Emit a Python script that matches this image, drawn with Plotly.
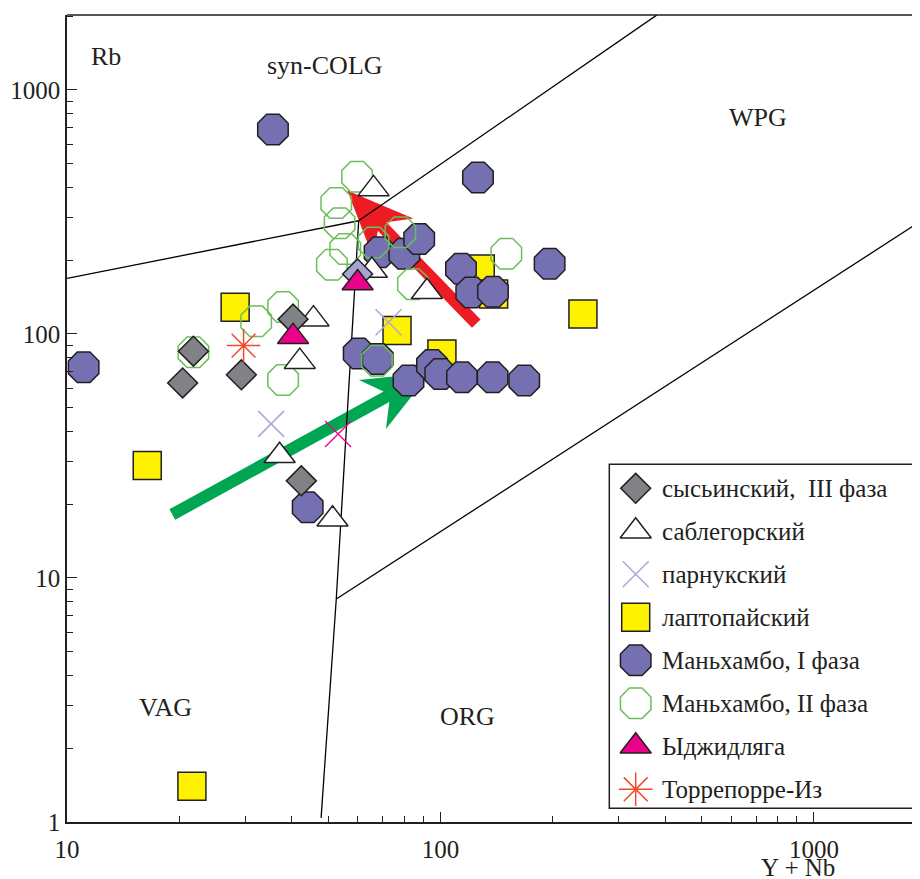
import numpy as np
import plotly.graph_objects as go

# ---------------- data (Y+Nb, Rb) ----------------
sys_x = [40.3, 21.8, 20.4, 29.3, 42.4]
sys_y = [115, 85, 63, 68, 25]

sab_x = [66.2, 65.5, 92.0, 45.7, 42.0, 37.1, 51.4]
sab_y = [393, 182, 149, 115, 77, 31.7, 17.4]

par_x = [35.2, 72.6]
par_y = [42.8, 111.6]

lap_x = [28.2, 16.4, 21.6, 76.5, 127.8, 138.8, 100.9, 240.7]
lap_y = [128.5, 28.9, 1.40, 103.2, 184.7, 145.8, 82.8, 120.8]

man1_x = [35.6, 11.08, 126, 68.7, 80.0, 87.7, 113.5, 120.9, 138.2, 196,
          60.4, 67.9, 82.1, 94.9, 99.9, 114.2, 137.9, 167.6, 44.1]
man1_y = [688, 73.0, 438, 216, 213, 245, 185, 148, 149, 194,
          83.2, 79.0, 64.4, 74.6, 68.5, 66.4, 66.4, 64.4, 19.5]

man2_x = [59.8, 52.6, 53.7, 55.6, 51.2, 66.2, 78.1, 84.4, 150.1, 37.9, 32.1, 21.8, 37.9, 67.6]
man2_y = [441, 344, 284, 223, 192, 237, 261, 160, 213, 129, 112.6, 84.1, 64.8, 77.7]

ydz_x = [60.0, 40.3]
ydz_y = [161.8, 97.5]

tor_x = [29.7]
tor_y = [89.6]

extra_dia_x = [60.0]
extra_dia_y = [176]
extra_x_x = [53.2]
extra_x_y = [38.9]

# discrimination boundaries (Pearce et al.)
line_a_x = [10, 60.4]
line_a_y = [169, 291]
line_b_x = [60.4, 380]
line_b_y = [291, 2030]
line_c_x = [60.4, 52.6, 47.9]
line_c_y = [291, 8.2, 1.04]
line_d_x = [52.6, 2000]
line_d_y = [8.2, 300]

# trend arrows: (tail, tip)
red_arrow = [(124.7, 110.2), (56.3, 386.7)]
green_arrow = [(19.14, 18.2), (93.9, 69.4)]

region_labels = ["Rb", "syn-COLG", "WPG", "VAG", "ORG"]
region_x = [12.7, 49.1, 708, 18.3, 118]
region_y = [1369, 1258, 769, 2.94, 2.71]

legend_names = ["сысьинский,  III фаза", "саблегорский", "парнукский", "лаптопайский",
                "Маньхамбо, I фаза", "Маньхамбо, II фаза", "Ыджидляга", "Торрепорре-Из"]

# ---------------- layout constants ----------------
OFF = 8                      # default page margin of the html body
W, H = 920 - OFF, 879 - OFF
ML, MR, MT, MB = 67 - OFF, 0, 15 - OFF, 57
XR = [1, np.log10(1923)]
YR = [0, 3.307]
PW = W - ML - MR
PH = H - MT - MB
PXX = PW / (XR[1] - XR[0])
PXY = PH / (YR[1] - YR[0])

INK = "#231f20"
FONT = "Liberation Serif"


def fx(px):   # page pixel x -> paper fraction
    return (px - OFF - ML) / PW


def fy(py):   # page pixel y -> paper fraction
    return 1 - (py - OFF - MT) / PH


fig = go.Figure()


def arrow_poly(tail, tip, sw=12, hl=66, hw=28, notch=16):
    t = np.array([np.log10(tail[0]) * PXX, np.log10(tail[1]) * PXY])
    p = np.array([np.log10(tip[0]) * PXX, np.log10(tip[1]) * PXY])
    u = (p - t) / np.linalg.norm(p - t)
    n = np.array([-u[1], u[0]])
    bs = p - u * (hl - notch)
    pts = [t + n * sw / 2, bs + n * sw / 2, p - u * hl + n * hw, p,
           p - u * hl - n * hw, bs - n * sw / 2, t - n * sw / 2, t + n * sw / 2]
    xs = [10 ** (q[0] / PXX) for q in pts]
    ys = [10 ** (q[1] / PXY) for q in pts]
    return xs, ys


for arr, col in [(red_arrow, "#ed1c24"), (green_arrow, "#00a651")]:
    ax_, ay_ = arrow_poly(arr[0], arr[1])
    fig.add_trace(go.Scatter(x=ax_, y=ay_, mode="lines", fill="toself", fillcolor=col,
                             line=dict(color=col, width=0), hoverinfo="skip", showlegend=False))

for lx, ly in [(line_a_x, line_a_y), (line_b_x, line_b_y), (line_c_x, line_c_y), (line_d_x, line_d_y)]:
    fig.add_trace(go.Scatter(x=lx, y=ly, mode="lines", line=dict(color="black", width=1.3),
                             hoverinfo="skip", showlegend=False))

dark = dict(color=INK, width=1.5)
styles = {
    "sys": dict(symbol="diamond", size=23, color="#808285", line=dark),
    "sab": dict(symbol="triangle-up", size=27, color="white", line=dark),
    "par": dict(symbol="x-thin-open", size=26, color="#a9a9d9", line=dict(color="#a9a9d9", width=1.5)),
    "lap": dict(symbol="square", size=28, color="#fff200", line=dark),
    "man1": dict(symbol="octagon", size=33, color="#7470b2", line=dark),
    "man2": dict(symbol="octagon-open", size=33, color="#6abf5a", line=dict(color="#6abf5a", width=1.5)),
    "ydz": dict(symbol="triangle-up", size=27, color="#ec008c", line=dark),
    "tor": dict(symbol="asterisk-open", size=28, color="#ef4a2a", line=dict(color="#ef4a2a", width=1.5)),
}

# drawing order (bottom -> top)
series = [
    ("lap", lap_x, lap_y),
    ("man1", man1_x, man1_y),
    ("man2", man2_x, man2_y),
    ("sab", sab_x, sab_y),
    ("sys", sys_x, sys_y),
]
for key, xs, ys in series:
    fig.add_trace(go.Scatter(x=xs, y=ys, mode="markers", marker=styles[key], showlegend=False))

fig.add_trace(go.Scatter(x=extra_dia_x, y=extra_dia_y, mode="markers",
                         marker=dict(symbol="diamond", size=23, color="#a5a5d2", line=dark),
                         showlegend=False))
for key, xs, ys in [("ydz", ydz_x, ydz_y), ("par", par_x, par_y)]:
    fig.add_trace(go.Scatter(x=xs, y=ys, mode="markers", marker=styles[key], showlegend=False))
fig.add_trace(go.Scatter(x=extra_x_x, y=extra_x_y, mode="markers",
                         marker=dict(symbol="x-thin-open", size=26, color="#ec008c",
                                     line=dict(color="#ec008c", width=1.3)),
                         showlegend=False))
fig.add_trace(go.Scatter(x=tor_x, y=tor_y, mode="markers", marker=styles["tor"], showlegend=False))

# ---------------- manual legend on overlay axes ----------------
leg_keys = ["sys", "sab", "par", "lap", "man1", "man2", "ydz", "tor"]
leg_y = [fy(488.3 + i * 43.0) for i in range(len(leg_keys))]
sym_x = fx(635.7)
txt_x = fx(659.5)
for key, yy in zip(leg_keys, leg_y):
    fig.add_trace(go.Scatter(x=[sym_x], y=[yy], mode="markers", marker=styles[key],
                             xaxis="x2", yaxis="y2", showlegend=False, hoverinfo="skip"))

annotations = []
for name, yy in zip(legend_names, leg_y):
    annotations.append(dict(x=txt_x, y=yy, xref="paper", yref="paper", text=name,
                            showarrow=False, xanchor="left", yanchor="middle",
                            font=dict(family=FONT, size=25, color=INK)))

for t, rx, ry in zip(region_labels, region_x, region_y):
    annotations.append(dict(x=np.log10(rx), y=np.log10(ry), xref="x", yref="y", text=t,
                            showarrow=False, xanchor="center", yanchor="middle",
                            font=dict(family=FONT, size=26, color=INK)))

annotations.append(dict(x=fx(797.5), y=fy(867), xref="paper", yref="paper",
                        text="Y + Nb", showarrow=False, xanchor="center", yanchor="middle",
                        font=dict(family=FONT, size=25, color=INK)))

shapes = [
    dict(type="rect", xref="paper", yref="paper",
         x0=fx(609.3), x1=1.02, y0=fy(808.3), y1=fy(464.3),
         line=dict(color=INK, width=1.5), fillcolor="white", layer="below"),
    dict(type="line", xref="paper", yref="paper", x0=0, x1=1.02, y0=1, y1=1,
         line=dict(color=INK, width=1.5), layer="above"),
]

minor_x = [k * 10 ** d for d in range(1, 4) for k in range(2, 10)]
minor_y = [k * 10 ** d for d in range(0, 4) for k in range(2, 10)]

axis_common = dict(type="log", showgrid=False, zeroline=False, showline=True,
                   linecolor=INK, linewidth=1.5, ticks="inside", ticklen=10,
                   tickwidth=1.3, tickcolor=INK,
                   tickfont=dict(family=FONT, size=25, color=INK))

fig.update_layout(
    width=W, height=H,
    margin=dict(l=ML, r=MR, t=MT, b=MB),
    paper_bgcolor="white", plot_bgcolor="white",
    showlegend=False,
    xaxis=dict(range=XR, tickvals=[10, 100, 1000], ticktext=["10", "100", "1000"],
               ticklabelstandoff=4,
               minor=dict(tickvals=minor_x, ticks="inside", ticklen=6, tickcolor=INK, tickwidth=1.2),
               **axis_common),
    yaxis=dict(range=YR, tickvals=[1, 10, 100, 1000], ticktext=["1", "10", "100", "1000"],
               minor=dict(tickvals=minor_y, ticks="inside", ticklen=6, tickcolor=INK, tickwidth=1.2),
               **axis_common),
    xaxis2=dict(range=[0, 1], overlaying="x", visible=False, anchor="y2"),
    yaxis2=dict(range=[0, 1], overlaying="y", visible=False, anchor="x2"),
    annotations=annotations,
    shapes=shapes,
)

fig.write_html("out.html")
